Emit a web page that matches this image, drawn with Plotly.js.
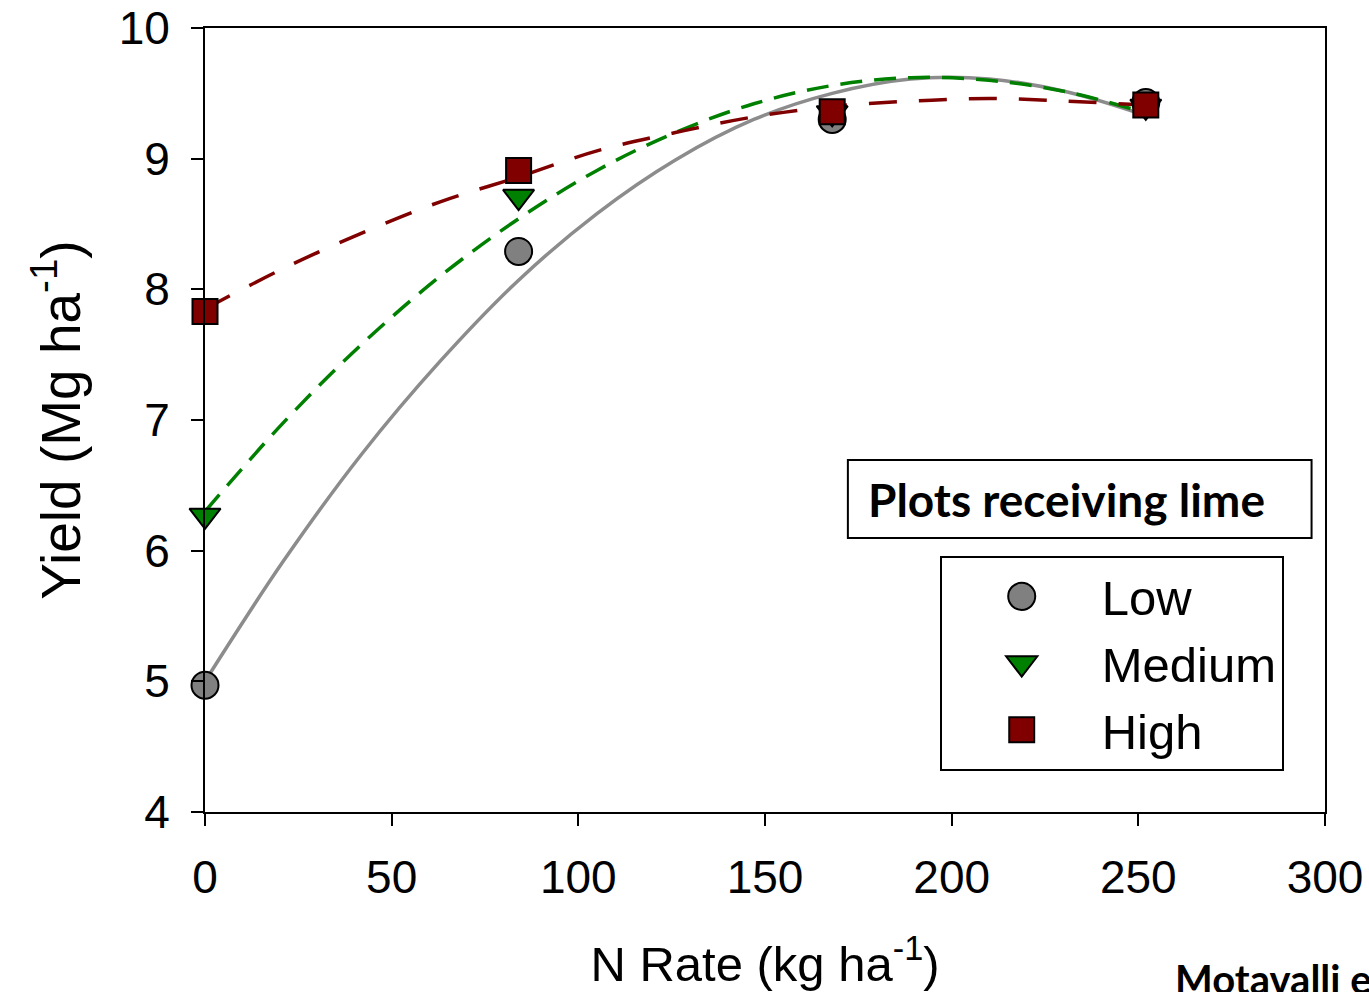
<!DOCTYPE html>
<html>
<head>
<meta charset="utf-8">
<script src="https://cdn.plot.ly/plotly-3.0.1.min.js"></script>
<style>html,body{margin:0;padding:0;background:#fff;overflow:hidden}#chart{width:1369px;height:992px}</style>
</head>
<body>
<div id="chart"></div>
<script>
// Observed points
const nRate = [0, 84, 168, 252];
const lowYield = [4.97, 8.29, 9.30, 9.43];
const mediumYield = [6.27, 8.71, 9.35, 9.40];
const highYield = [7.83, 8.91, 9.36, 9.41];

// Fitted curves
const curveN = [0, 21, 42, 63, 84, 105, 126, 147, 168, 189, 210, 231, 252];
const lowCurve = [5.00, 5.92, 6.74, 7.45, 8.07, 8.58, 8.99, 9.30, 9.50, 9.61, 9.61, 9.51, 9.33];
const mediumCurve = [6.30, 6.98, 7.58, 8.10, 8.54, 8.91, 9.20, 9.42, 9.56, 9.62, 9.60, 9.51, 9.35];
const highCurve = [7.85, 8.16, 8.43, 8.67, 8.86, 9.06, 9.20, 9.32, 9.40, 9.44, 9.46, 9.44, 9.41];

const seriesNames = ['Low', 'Medium', 'High'];
const xTicks = [0, 50, 100, 150, 200, 250, 300];
const yTicks = [4, 5, 6, 7, 8, 9, 10];

const FONT = 'Liberation Sans, Arial, sans-serif';

const traces = [
  {x: curveN, y: lowCurve, mode: 'lines', line: {color: '#8c8c8c', width: 3.5, shape: 'spline'}, showlegend: false, hoverinfo: 'skip'},
  {x: curveN, y: mediumCurve, mode: 'lines', line: {color: '#008000', width: 3.5, dash: '22px,12px', shape: 'spline'}, showlegend: false, hoverinfo: 'skip'},
  {x: curveN, y: highCurve, mode: 'lines', line: {color: '#800000', width: 3.5, dash: '28px,22px', shape: 'spline'}, showlegend: false, hoverinfo: 'skip'},
  {x: nRate, y: lowYield, name: seriesNames[0], mode: 'markers', cliponaxis: false, marker: {symbol: 'circle', size: 27, color: '#808080', line: {color: '#000', width: 2}}},
  {x: nRate, y: mediumYield, name: seriesNames[1], mode: 'markers', cliponaxis: false, marker: {symbol: 'triangle-down', size: 27, color: '#008000', line: {color: '#000', width: 2}}},
  {x: nRate, y: highYield, name: seriesNames[2], mode: 'markers', cliponaxis: false, marker: {symbol: 'square', size: 25, color: '#800000', line: {color: '#000', width: 2}}}
];

const layout = {
  width: 1369, height: 992,
  margin: {l: 205, r: 44, t: 28, b: 180},
  paper_bgcolor: '#fff', plot_bgcolor: '#fff',
  font: {family: FONT, size: 46, color: '#000'},
  xaxis: {
    range: [0, 300], tickvals: xTicks, ticktext: xTicks.map(String),
    showgrid: false, zeroline: false, showline: true, linecolor: '#000', linewidth: 2, mirror: true,
    ticks: 'outside', ticklen: 12, tickwidth: 2, tickcolor: '#000',
    ticklabelstandoff: 12,
    tickfont: {family: FONT, size: 46},
    title: {text: 'N Rate (kg ha<sup>-1</sup>)', font: {family: FONT, size: 49}, standoff: 44}
  },
  yaxis: {
    range: [4, 10], tickvals: yTicks, ticktext: yTicks.map(String),
    showgrid: false, zeroline: false, showline: true, linecolor: '#000', linewidth: 2, mirror: true,
    ticks: 'outside', ticklen: 12, tickwidth: 2, tickcolor: '#000',
    ticklabelstandoff: 12,
    tickfont: {family: FONT, size: 46},
    title: {text: 'Yield (Mg ha<sup>-1</sup>)', font: {family: FONT, size: 55}, standoff: 20}
  },
  legend: {
    x: 0.656, y: 0.3265, xanchor: 'left', yanchor: 'top',
    bordercolor: '#000', borderwidth: 2, bgcolor: '#fff',
    font: {family: FONT, size: 49}, itemwidth: 150,
    tracegroupgap: 0
  },
  shapes: [
    {type: 'rect', xref: 'paper', yref: 'paper', x0: 0.574, x1: 0.988, y0: 0.3495, y1: 0.449,
     line: {color: '#000', width: 2}, fillcolor: '#fff', layer: 'above'}
  ],
  annotations: [
    {xref: 'paper', yref: 'paper', x: 0.590, y: 0.399, xanchor: 'left', yanchor: 'middle',
     text: '<b>Plots receiving lime</b>', showarrow: false,
     font: {family: 'Lato, sans-serif', size: 46, color: '#000'}},
    {xref: 'paper', yref: 'paper', x: 0.864, y: -0.213, xanchor: 'left', yanchor: 'middle',
     text: '<b>Motavalli et al.</b>', showarrow: false,
     font: {family: 'Lato, sans-serif', size: 40, color: '#000'}}
  ]
};

Plotly.newPlot('chart', traces, layout, {staticPlot: true, displayModeBar: false}).then(function () {
  const scales = [1.69, 1.69, 1.56];
  document.querySelectorAll('.legend .traces').forEach(function (tr, i) {
    tr.querySelectorAll('.legendpoints path.scatterpts').forEach(function (p) {
      const s = scales[i] || 1.6;
      const t = p.getAttribute('transform') || '';
      p.setAttribute('transform', t + ' scale(' + s + ')');
      p.style.strokeWidth = (2 / s) + 'px';
    });
  });
});
</script>
</body>
</html>
